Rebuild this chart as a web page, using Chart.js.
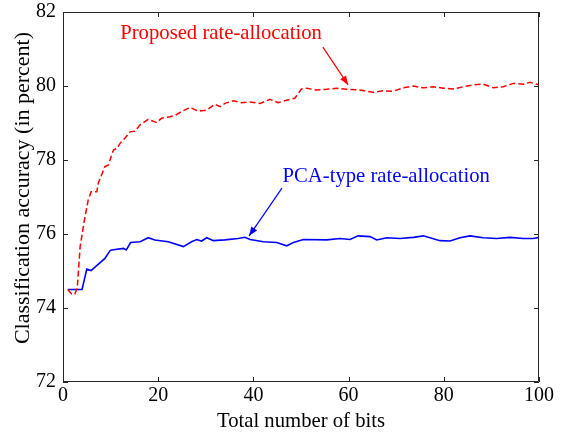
<!DOCTYPE html>
<html>
<head>
<meta charset="utf-8">
<script src="https://cdn.jsdelivr.net/npm/chart.js@4/dist/chart.umd.min.js"></script>
<style>
  html, body { margin: 0; padding: 0; background: #fff; }
  #wrap { width: 564px; height: 432px; }
</style>
</head>
<body>
<div id="wrap"><canvas id="chart" width="564" height="432"></canvas></div>
<script>
'use strict';

// ── Data ─────────────────────────────────────────────────────────────────────
const propBits = [1, 1.8, 2.5, 3.0, 3.6, 4.5, 5.3, 5.9, 7.1, 7.4, 8.8, 9.5, 10.6, 11.3, 12, 13, 14.1,
  15.1, 16.2, 17.9, 19.7, 20.7, 22.5, 23.5, 24.9, 26.7, 28.4, 30.2, 31.9, 33, 34, 35.8, 37.5, 39.3,
  41.4, 43.5, 45.2, 47.7, 48.7, 50.1, 51.2, 53.3, 55.4, 57.5, 59.6, 62.4, 65.2, 67.3, 69.4, 71.5,
  73.6, 75.7, 77.8, 79.9, 82, 84.1, 86.2, 88.3, 90.4, 92.5, 94.6, 96.7, 98.1, 100];
const propAcc = [74.5, 74.38, 74.38, 74.55, 75.66, 76.38, 76.92, 77.14, 77.14, 77.37, 77.82, 77.86,
  78.27, 78.31, 78.45, 78.59, 78.76, 78.78, 78.95, 79.10, 79.01, 79.13, 79.17, 79.20, 79.31, 79.42,
  79.32, 79.35, 79.51, 79.44, 79.53, 79.60, 79.55, 79.57, 79.53, 79.64, 79.55, 79.64, 79.67, 79.92,
  79.94, 79.89, 79.91, 79.94, 79.91, 79.89, 79.83, 79.87, 79.86, 79.95, 80.0, 79.95, 79.98, 79.94,
  79.92, 79.98, 80.03, 80.05, 79.95, 79.98, 80.07, 80.05, 80.10, 80.03];

const pcaBits = [1, 4, 5, 5.9, 8.8, 9.9, 10.2, 12.7, 13.3, 14.2, 16.2, 17.9, 19.3, 22.1, 25.3, 27,
  28.1, 29.1, 30.2, 31.6, 34, 36.8, 38.2, 39.3, 42.1, 44.9, 47, 48.4, 50.5, 55.4, 58.2, 60.3, 62,
  64.5, 65.9, 68, 70.8, 73.6, 75.7, 79.2, 81.3, 83.4, 85.5, 88.3, 91.1, 93.9, 96.7, 98.8, 100];
const pcaAcc = [74.5, 74.5, 75.05, 75.01, 75.34, 75.55, 75.57, 75.61, 75.57, 75.77, 75.79, 75.90,
  75.84, 75.79, 75.66, 75.79, 75.85, 75.81, 75.90, 75.82, 75.84, 75.88, 75.91, 75.85, 75.79, 75.77,
  75.68, 75.77, 75.85, 75.84, 75.88, 75.85, 75.95, 75.93, 75.84, 75.90, 75.88, 75.91, 75.95, 75.82,
  75.81, 75.90, 75.95, 75.90, 75.88, 75.91, 75.88, 75.88, 75.91];

const xTicks = [0, 20, 40, 60, 80, 100];
const yTicks = [72, 74, 76, 78, 80, 82];

// annotation anchors, in data units: text centre, arrow tail, arrow tip
const notes = [
  { text: 'Proposed rate-allocation', color: '#ff0000', at: [33.2, 81.42], from: [54.6, 81.05], to: [59.9, 80.03] },
  { text: 'PCA-type rate-allocation', color: '#0000ff', at: [67.9, 77.56], from: [46.0, 77.24], to: [39.1, 75.95] },
];

const FONT = '"Liberation Serif", "Times New Roman", serif';
const toPts = (xs, ys) => xs.map((x, i) => ({ x, y: ys[i] }));

// ── MATLAB-ish box, inward ticks, y title and arrows ────────────────────────
const matlabFrame = {
  id: 'matlabFrame',
  afterDraw(chart) {
    const { ctx, chartArea: a, scales: { x, y } } = chart;
    const tl = 5;
    ctx.save();
    ctx.strokeStyle = '#262626';
    ctx.lineWidth = 1;
    ctx.beginPath();
    ctx.rect(Math.round(a.left) + 0.5, Math.round(a.top) + 0.5,
             Math.round(a.right - a.left) - 1, Math.round(a.bottom - a.top) - 1);
    xTicks.forEach(v => {
      const px = Math.round(x.getPixelForValue(v)) + 0.5;
      ctx.moveTo(px, a.bottom); ctx.lineTo(px, a.bottom - tl);
      ctx.moveTo(px, a.top);    ctx.lineTo(px, a.top + tl);
    });
    yTicks.forEach(v => {
      const py = Math.round(y.getPixelForValue(v)) + 0.5;
      ctx.moveTo(a.left, py);  ctx.lineTo(a.left + tl, py);
      ctx.moveTo(a.right, py); ctx.lineTo(a.right - tl, py);
    });
    ctx.stroke();

    // y title
    ctx.fillStyle = '#000';
    ctx.font = '22px ' + FONT;
    ctx.textAlign = 'center';
    ctx.textBaseline = 'middle';
    ctx.translate(23, 188);
    ctx.rotate(-Math.PI / 2);
    ctx.fillText('Classification accuracy (in percent)', 0, 0);
    ctx.restore();

    // annotations
    notes.forEach(n => {
      const tx = x.getPixelForValue(n.at[0]), ty = y.getPixelForValue(n.at[1]);
      const x0 = x.getPixelForValue(n.from[0]), y0 = y.getPixelForValue(n.from[1]);
      const x1 = x.getPixelForValue(n.to[0]),   y1 = y.getPixelForValue(n.to[1]);
      ctx.save();
      ctx.fillStyle = n.color;
      ctx.strokeStyle = n.color;
      ctx.font = '20.7px ' + FONT;
      ctx.textAlign = 'center';
      ctx.textBaseline = 'middle';
      ctx.fillText(n.text, tx, ty);
      ctx.lineWidth = 1.2;
      ctx.beginPath(); ctx.moveTo(x0, y0); ctx.lineTo(x1, y1); ctx.stroke();
      const ang = Math.atan2(y1 - y0, x1 - x0), hl = 9, hw = 3.5;
      ctx.beginPath();
      ctx.moveTo(x1, y1);
      ctx.lineTo(x1 - hl * Math.cos(ang) + hw * Math.sin(ang), y1 - hl * Math.sin(ang) - hw * Math.cos(ang));
      ctx.lineTo(x1 - hl * Math.cos(ang) - hw * Math.sin(ang), y1 - hl * Math.sin(ang) + hw * Math.cos(ang));
      ctx.closePath();
      ctx.fill();
      ctx.restore();
    });
  },
};

new Chart(document.getElementById('chart'), {
  type: 'line',
  data: {
    datasets: [
      {
        label: 'Proposed rate-allocation',
        data: toPts(propBits, propAcc),
        borderColor: '#ff0000',
        borderWidth: 1.5,
        borderDash: [6, 3],
        pointRadius: 0,
        tension: 0,
      },
      {
        label: 'PCA-type rate-allocation',
        data: toPts(pcaBits, pcaAcc),
        borderColor: '#0000ff',
        borderWidth: 1.6,
        pointRadius: 0,
        tension: 0,
      },
    ],
  },
  options: {
    responsive: false,
    animation: false,
    devicePixelRatio: 1,
    layout: { padding: { left: 0, top: 12, right: 25, bottom: 0 } },
    plugins: { legend: { display: false }, tooltip: { enabled: false } },
    scales: {
      x: {
        type: 'linear', min: 0, max: 100,
        afterBuildTicks: s => { s.ticks = xTicks.map(v => ({ value: v })); },
        afterFit: s => { s.height = 50; },
        grid: { display: false },
        border: { display: false },
        ticks: { color: '#000', font: { family: FONT, size: 20 }, padding: -6, maxRotation: 0 },
        title: { display: true, text: 'Total number of bits', color: '#000',
                 font: { family: FONT, size: 20.7 }, padding: { top: 0, bottom: -2 } },
      },
      y: {
        type: 'linear', min: 72, max: 82,
        afterBuildTicks: s => { s.ticks = yTicks.map(v => ({ value: v })); },
        afterFit: s => { s.width = 63; },
        grid: { display: false },
        border: { display: false },
        ticks: { color: '#000', font: { family: FONT, size: 20 }, padding: -1 },
      },
    },
  },
  plugins: [matlabFrame],
});
</script>
</body>
</html>
